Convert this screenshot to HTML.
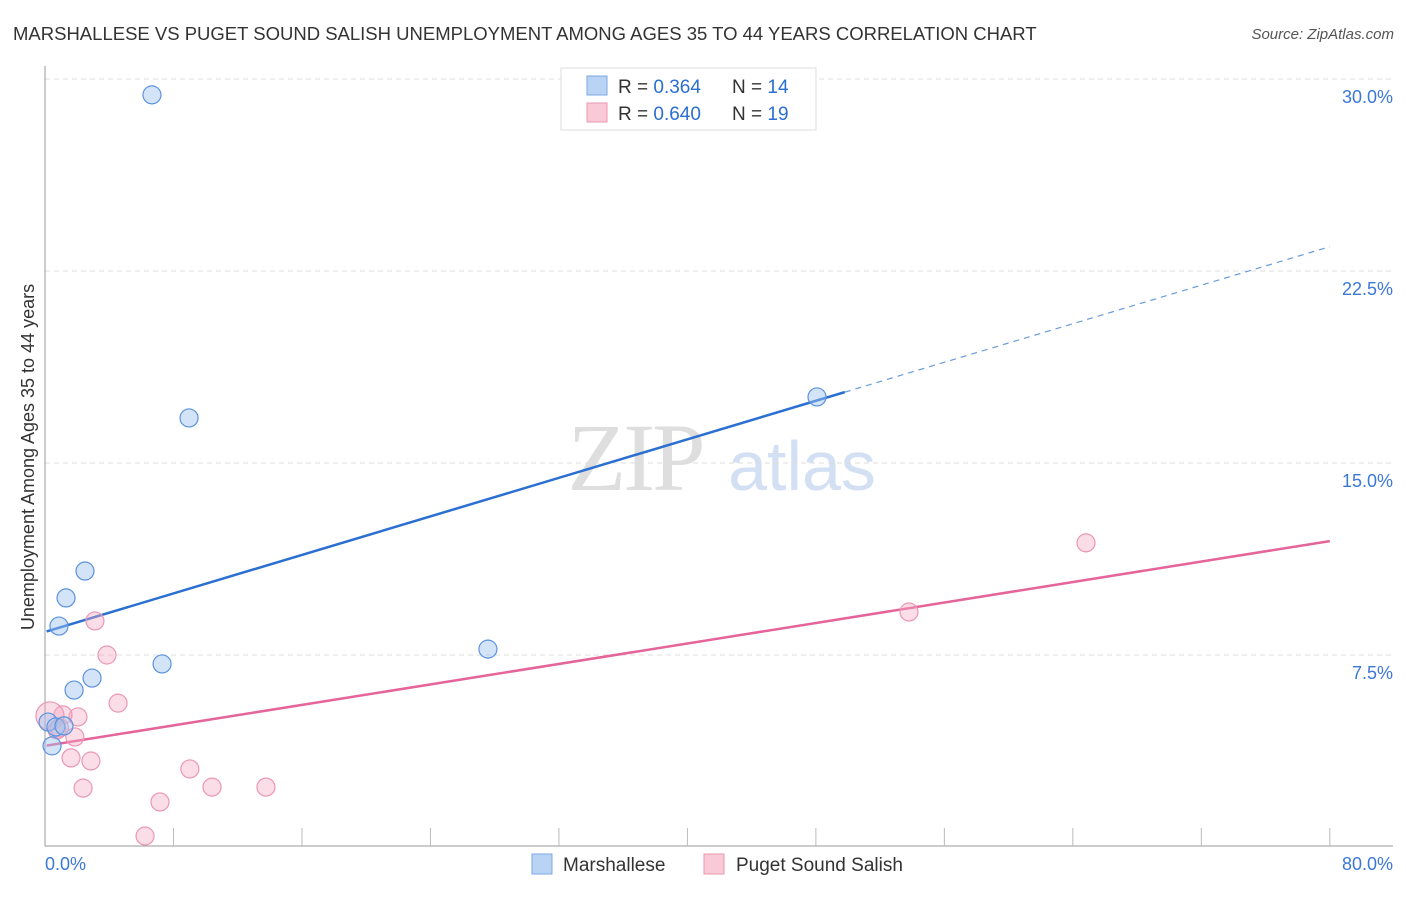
<!DOCTYPE html>
<html><head><meta charset="utf-8"><style>
body{margin:0;background:#fff;font-family:"Liberation Sans",sans-serif;}
</style></head><body>
<svg id="chart" width="1406" height="892" xmlns="http://www.w3.org/2000/svg" font-family="Liberation Sans, sans-serif">
<text x="13" y="40" font-size="18.5" fill="#333">MARSHALLESE VS PUGET SOUND SALISH UNEMPLOYMENT AMONG AGES 35 TO 44 YEARS CORRELATION CHART</text>
<text x="1394" y="39" font-size="15" fill="#555" text-anchor="end" font-style="italic">Source: ZipAtlas.com</text>
<text transform="translate(34,457) rotate(-90)" font-size="18" fill="#333" text-anchor="middle">Unemployment Among Ages 35 to 44 years</text>
<g>
<text x="635" y="490" font-size="96" fill="#dedede" text-anchor="middle" style="font-family:'Liberation Serif',serif" letter-spacing="-3">ZIP</text>
<text x="802" y="490" font-size="70" fill="#d3e0f3" text-anchor="middle">atlas</text>
</g>
<g id="grid"></g><g id="axes"></g><g id="lines"></g><g id="pts"></g>
<g>
<rect x="561" y="68" width="255" height="62" fill="#fff" stroke="#ddd"/>
<rect x="587" y="76" width="20" height="19" fill="#b9d3f5" stroke="#7aa7e3"/>
<rect x="587" y="103" width="20" height="19" fill="#f9c9d7" stroke="#eb97b2"/>
<text x="618" y="93" font-size="19" fill="#333">R = <tspan fill="#2a6fd1">0.364</tspan><tspan x="732">N = </tspan><tspan fill="#2a6fd1">14</tspan></text>
<text x="618" y="120" font-size="19" fill="#333">R = <tspan fill="#2a6fd1">0.640</tspan><tspan x="732">N = </tspan><tspan fill="#2a6fd1">19</tspan></text>
</g>
<g>
<rect x="532" y="854" width="20" height="20" fill="#b9d3f5" stroke="#7aa7e3"/>
<text x="563" y="871" font-size="19" fill="#333">Marshallese</text>
<rect x="704" y="854" width="20" height="20" fill="#f9c9d7" stroke="#eb97b2"/>
<text x="736" y="871" font-size="19" fill="#333">Puget Sound Salish</text>
</g>
</svg>
<script>
const yTicks=[7.5,15,22.5,30];
const yTickLabels=["7.5%","15.0%","22.5%","30.0%"];
const xTickLabels=["0.0%","80.0%"];
const blueX=[6.66,8.97,2.49,1.31,0.87,7.29,2.93,1.81,27.58,48.07,0.19,0.68,1.18,0.44];
const blueY=[29.38,16.76,10.78,9.73,8.63,7.15,6.6,6.13,7.73,17.58,4.88,4.69,4.73,3.95];
const pinkX=[3.11,3.86,4.55,2.05,1.12,1.86,1.62,2.86,2.37,9.02,10.4,13.76,7.16,6.23,0.31,0.75,0.9,53.8,64.82];
const pinkY=[8.83,7.5,5.62,5.08,5.16,4.3,3.48,3.36,2.3,3.05,2.34,2.34,1.76,0.43,5.12,4.57,4.65,9.18,11.88];
const blueLine=[8.4,23.45];  // trend y at x=0 and x=80
const blueSolidEnd=[49.8];
const pinkLine=[3.95,11.95];
const X=v=>45+v*16.06, Y=v=>847-v*25.6;
const ns="http://www.w3.org/2000/svg";
function mk(p,t,a){const e=document.createElementNS(ns,t);for(const k in a)e.setAttribute(k,a[k]);document.getElementById(p).appendChild(e);return e;}
yTicks.forEach((t,i)=>{
 const g=mk('grid','line',{x1:45,x2:1393,y1:Y(t),y2:Y(t),stroke:'#ddd','stroke-dasharray':'5,4'});
 
 
 const l=mk('grid','text',{x:1393,y:Y(t)+24,'font-size':18,fill:'#3b78d8','text-anchor':'end'});l.textContent=yTickLabels[i];
 
 
});
let a=mk('axes','line',{x1:45,x2:45,y1:66,y2:846,stroke:'#999'});


a=mk('axes','line',{x1:45,x2:1393,y1:846,y2:846,stroke:'#999'});


for(let i=1;i<=10;i++){const t=mk('axes','line',{x1:X(i*8),x2:X(i*8),y1:828,y2:846,stroke:'#bbb'});
 
 }
let tl=mk('axes','text',{x:45,y:870,'font-size':18,fill:'#3b78d8'});tl.textContent=xTickLabels[0];


tl=mk('axes','text',{x:1393,y:870,'font-size':18,fill:'#3b78d8','text-anchor':'end'});tl.textContent=xTickLabels[1];


const by=x=>blueLine[0]+(blueLine[1]-blueLine[0])*x/80, py=x=>pinkLine[0]+(pinkLine[1]-pinkLine[0])*x/80;
let ln=mk('lines','line',{x1:X(0.1),y1:Y(by(0.1)),x2:X(blueSolidEnd[0]),y2:Y(by(blueSolidEnd[0])),stroke:'#2a6fd1','stroke-width':2.5});


ln=mk('lines','line',{x1:X(blueSolidEnd[0]),y1:Y(by(blueSolidEnd[0])),x2:X(80),y2:Y(by(80)),stroke:'#6a9bdf','stroke-width':1.2,'stroke-dasharray':'6,5'});


ln=mk('lines','line',{x1:X(0.1),y1:Y(py(0.1)),x2:X(80),y2:Y(py(80)),stroke:'#e5649a','stroke-width':2.5});


pinkX.forEach((x,i)=>{const c=mk('pts','circle',{cx:X(x),cy:Y(pinkY[i]),r:i==14?14:9,fill:'rgba(245,170,195,0.4)',stroke:'#eb97b2','stroke-width':1.2});
 
 });
blueX.forEach((x,i)=>{const c=mk('pts','circle',{cx:X(x),cy:Y(blueY[i]),r:9,fill:'rgba(160,195,240,0.45)',stroke:'#5b93de','stroke-width':1.2});
 
 });
</script>
</body></html>
